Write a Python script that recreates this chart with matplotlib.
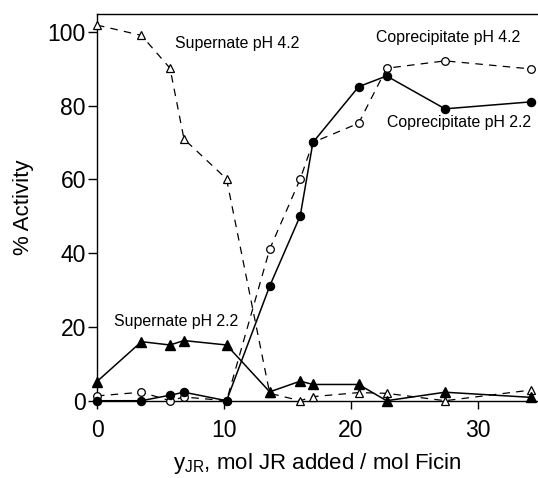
import numpy as np
import matplotlib
matplotlib.use("Agg")
import matplotlib.pyplot as plt

plt.rcParams['font.family'] = ['Liberation Sans', 'DejaVu Sans']

# mol JR added per mol ficin
y_jr = [0, 3.5, 5.75, 6.85, 10.2, 13.6, 16.0, 17.0, 20.6, 22.8, 27.4, 34.2]

# % activity
sup_42 = [101.8, 99.0, 90.1, 70.9, 60.1, 2.0, 0.0, 1.1, 2.2, 2.0, 0.0, 2.9]
sup_22 = [5.2, 16.0, 15.1, 16.3, 15.1, 2.4, 5.3, 4.4, 4.4, 0.0, 2.3, 0.9]
cop_42 = [1.3, 2.3, 0.0, 1.0, 0.0, 41.1, 60.1, 70.0, 75.2, 90.1, 92.1, 89.9]
cop_22 = [0.0, 0.0, 1.5, 2.3, 0.0, 31.1, 50.1, 70.0, 85.1, 88.0, 79.1, 81.0]

fig = plt.figure(figsize=(5.38, 4.78), dpi=100)
ax = fig.add_axes([0.1803, 0.1617, 0.8197, 0.809])

dash = (0, (6, 5))
ax.plot(y_jr, sup_42, linestyle=dash, color='black', lw=0.9, marker='^',
        ms=6, mfc='white', mec='black', mew=0.9, clip_on=False, zorder=3)
ax.plot(y_jr, cop_42, linestyle=dash, color='black', lw=0.9, marker='o',
        ms=5.5, mfc='white', mec='black', mew=0.9, clip_on=False, zorder=3)
ax.plot(y_jr, sup_22, linestyle='-', color='black', lw=1.1, marker='^',
        ms=6.5, mfc='black', mec='black', clip_on=False, zorder=4)
ax.plot(y_jr, cop_22, linestyle='-', color='black', lw=1.1, marker='o',
        ms=5.8, mfc='black', mec='black', clip_on=False, zorder=4)

fs = 11.4
ax.text(6.14, 96.8, "Supernate pH 4.2", fontsize=fs, va='center', ha='left')
ax.text(22.0, 98.3, "Coprecipitate pH 4.2", fontsize=fs, va='center', ha='left')
ax.text(22.8, 75.3, "Coprecipitate pH 2.2", fontsize=fs, va='center', ha='left')
ax.text(1.34, 21.6, "Supernate pH 2.2", fontsize=fs, va='center', ha='left')

ax.set_xlim(0, 34.72)
ax.set_ylim(0, 104.8)
ax.set_xticks([0, 10, 20, 30])
ax.set_yticks([0, 20, 40, 60, 80, 100])
ax.spines['right'].set_visible(False)
for s in ['left', 'top', 'bottom']:
    ax.spines[s].set_linewidth(1.0)
ax.tick_params(axis='y', direction='out', length=6.5, width=1.0, pad=1.5, labelsize=16.5)
ax.tick_params(axis='x', direction='out', length=6, width=1.0, pad=7, labelsize=16.5)

ax.set_xlabel(r"y$_{\mathregular{JR}}$, mol JR added / mol Ficin", fontsize=16, labelpad=7)
ax.set_ylabel("% Activity", fontsize=16, labelpad=10)

fig.savefig("out.png", dpi=100)
